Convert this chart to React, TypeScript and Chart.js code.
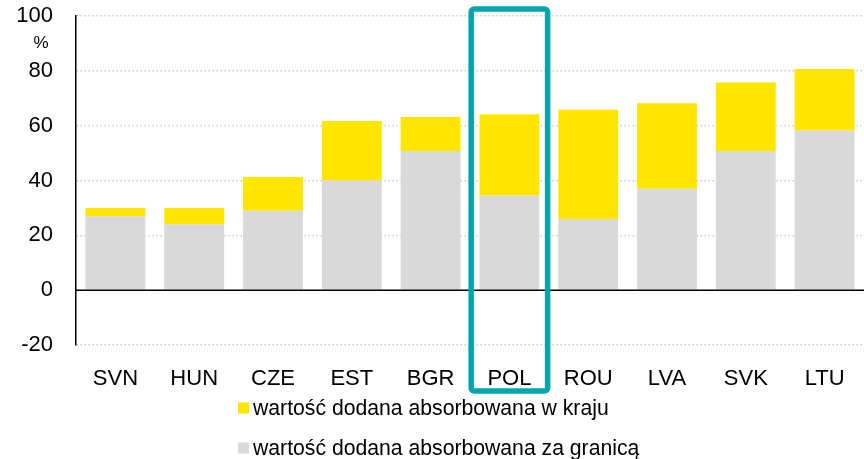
import React, { useEffect, useRef } from "react";
import { Chart, registerables } from "chart.js";

Chart.register(...registerables);

const categories = ["SVN", "HUN", "CZE", "EST", "BGR", "POL", "ROU", "LVA", "SVK", "LTU"];
const abroadValues = [27, 24, 29, 40, 50.8, 34.5, 26, 37, 50.8, 58.2];
const domesticValues = [3, 6, 12.3, 21.7, 12.4, 29.7, 39.8, 31.2, 24.9, 22.5];
const yTicks = [-20, 0, 20, 40, 60, 80, 100];
const seriesLabels = ["wartość dodana absorbowana w kraju", "wartość dodana absorbowana za granicą"];
const highlighted = "POL";

const YELLOW = "#FFE600";
const GRAY = "#D9D9D9";
const TEAL = "#00A5AE";
const FONT = "Arial, 'Liberation Sans', sans-serif";

const overlayPlugin = {
  id: "overlay",
  afterDatasetsDraw(chart: any) {
    const { ctx, chartArea, scales } = chart;
    const y = scales.y;
    const y0 = y.getPixelForValue(0);
    ctx.save();
    ctx.strokeStyle = "#000";
    ctx.lineWidth = 1.5;
    ctx.beginPath();
    ctx.moveTo(chartArea.left, y0);
    ctx.lineTo(chartArea.right, y0);
    ctx.stroke();
    ctx.restore();
  },
  afterDraw(chart: any) {
    const { ctx, chartArea, scales } = chart;
    const x = scales.x;
    const y = scales.y;
    ctx.save();
    ctx.fillStyle = "#000";
    ctx.font = `17px ${FONT}`;
    ctx.textAlign = "center";
    ctx.textBaseline = "middle";
    ctx.fillText("%", 41, y.getPixelForValue(100) + 27);

    const idx = categories.indexOf(highlighted);
    const cx = x.getPixelForValue(idx);
    const cw = (chartArea.right - chartArea.left) / categories.length;
    const half = cw * 0.485;
    const top = y.getPixelForValue(100) - 7;
    const bottom = chartArea.bottom + 46;
    ctx.strokeStyle = TEAL;
    ctx.lineWidth = 5.5;
    ctx.lineJoin = "round";
    ctx.beginPath();
    (ctx as any).roundRect(cx - half, top, half * 2, bottom - top, 3);
    ctx.stroke();

    const colors = [YELLOW, GRAY];
    const lx = 238;
    const rows = [408, 448];
    ctx.font = `21.2px ${FONT}`;
    ctx.textAlign = "left";
    ctx.textBaseline = "middle";
    rows.forEach((ry, i) => {
      ctx.fillStyle = colors[i];
      ctx.fillRect(lx, ry - 5.5, 11, 11);
      ctx.fillStyle = "#000";
      ctx.fillText(seriesLabels[i], lx + 15, ry + 1);
    });
    ctx.restore();
  },
};

export default function App() {
  const ref = useRef<HTMLCanvasElement>(null);
  useEffect(() => {
    if (!ref.current) return;
    const chart = new Chart(ref.current, {
      type: "bar",
      data: {
        labels: categories,
        datasets: [
          {
            label: seriesLabels[1],
            data: abroadValues,
            backgroundColor: GRAY,
            categoryPercentage: 1,
            barPercentage: 0.76,
            stack: "s",
          },
          {
            label: seriesLabels[0],
            data: domesticValues,
            backgroundColor: YELLOW,
            categoryPercentage: 1,
            barPercentage: 0.76,
            stack: "s",
          },
        ],
      },
      options: {
        responsive: false,
        animation: false,
        layout: { padding: { top: 16, right: 0, left: 0, bottom: 0 } },
        plugins: { legend: { display: false }, tooltip: { enabled: false } },
        scales: {
          x: {
            stacked: true,
            grid: { display: false, drawTicks: false },
            border: { display: false },
            ticks: { color: "#000", font: { family: FONT, size: 22 }, padding: 21, maxRotation: 0 },
            afterFit: (s: any) => {
              s.height = 114;
              s.paddingLeft = 0;
              s.paddingRight = 0;
            },
          },
          y: {
            stacked: true,
            min: -20,
            max: 100,
            afterBuildTicks: (s: any) => {
              s.ticks = yTicks.map((v) => ({ value: v }));
            },
            grid: {
              drawTicks: false,
              color: (c: any) => (c.tick && c.tick.value === 0 ? "rgba(0,0,0,0)" : "#CCCCCC"),
              lineWidth: 1.5,
            },
            border: { display: true, color: "#000", width: 1.5, dash: [1.5, 2.5] },
            ticks: { color: "#000", font: { family: FONT, size: 22 }, padding: 23 },
            afterFit: (s: any) => {
              s.width = 76;
              s.paddingTop = 0;
              s.paddingBottom = 0;
            },
          },
        },
      },
      plugins: [overlayPlugin],
    });
    return () => chart.destroy();
  }, []);
  return (
    <div style={{ position: "absolute", left: 0, top: 0, width: 864, height: 459 }}>
      <canvas ref={ref} width={864} height={459} style={{ display: "block" }} />
    </div>
  );
}
